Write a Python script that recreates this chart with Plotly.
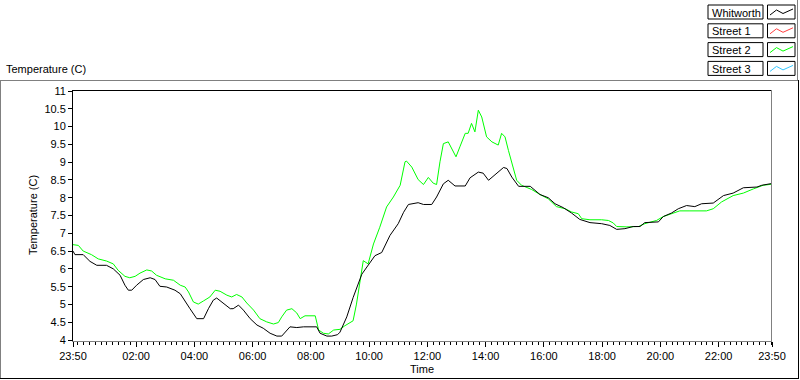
import plotly.graph_objects as go
from datetime import datetime, timedelta

# ---------------- data (minutes after 23:50, temperature in C) ----------------
whitworth_min = [0, 4, 21, 35, 49, 69, 83, 97, 107, 114, 121, 131, 145, 159, 169, 179, 193, 203,
                 210, 221, 231, 241, 255, 269, 279, 289, 296, 310, 324, 330, 341, 351, 365, 379,
                 392, 406, 420, 430, 440, 447, 461, 475, 502, 509, 523, 533, 545, 550, 564, 577,
                 595, 608, 622, 636, 653, 670, 681, 691, 711, 722, 739, 749, 763, 773, 787, 808,
                 818, 835, 845, 856, 869, 887, 894, 904, 918, 942, 962, 979, 993, 1010, 1027,
                 1044, 1065, 1089, 1106, 1120, 1137, 1154, 1168, 1178, 1206, 1216, 1233, 1247,
                 1264, 1281, 1295, 1319, 1340, 1360, 1381, 1409, 1419, 1440]
whitworth_val = [6.50, 6.40, 6.40, 6.21, 6.10, 6.10, 6.00, 5.82, 5.54, 5.40, 5.40, 5.54, 5.70,
                 5.75, 5.70, 5.51, 5.49, 5.43, 5.40, 5.30, 5.07, 4.88, 4.60, 4.60, 4.88, 5.12,
                 5.18, 5.04, 4.88, 4.88, 4.98, 4.84, 4.60, 4.42, 4.33, 4.19, 4.11, 4.11, 4.28,
                 4.37, 4.35, 4.37, 4.37, 4.19, 4.11, 4.11, 4.15, 4.22, 4.65, 5.19, 5.85, 6.09,
                 6.37, 6.46, 6.94, 7.27, 7.59, 7.81, 7.86, 7.81, 7.81, 8.02, 8.39, 8.49, 8.33,
                 8.33, 8.56, 8.72, 8.69, 8.49, 8.63, 8.85, 8.82, 8.58, 8.32, 8.32, 8.09, 8.00,
                 7.83, 7.72, 7.57, 7.39, 7.30, 7.27, 7.22, 7.11, 7.13, 7.19, 7.19, 7.30, 7.32,
                 7.47, 7.57, 7.69, 7.78, 7.75, 7.83, 7.85, 8.06, 8.13, 8.28, 8.30, 8.35, 8.40]

street2_min = [0, 11, 21, 38, 52, 69, 83, 93, 107, 117, 128, 138, 152, 162, 172, 190, 207, 221,
               231, 238, 248, 258, 269, 282, 293, 303, 317, 327, 337, 348, 358, 372, 385, 399,
               413, 423, 430, 440, 451, 461, 468, 478, 499, 506, 516, 526, 537, 550, 560, 577,
               584, 595, 598, 608, 619, 632, 646, 660, 674, 684, 687, 698, 711, 722, 732, 742,
               749, 756, 763, 773, 780, 789, 797, 808, 814, 821, 828, 835, 842, 852, 863, 876,
               883, 890, 897, 904, 914, 924, 945, 962, 979, 996, 1014, 1027, 1041, 1048, 1065,
               1089, 1103, 1113, 1120, 1141, 1165, 1178, 1202, 1216, 1240, 1250, 1271, 1305,
               1319, 1336, 1360, 1381, 1402, 1422, 1440]
street2_val = [6.68, 6.66, 6.50, 6.40, 6.28, 6.22, 6.14, 5.96, 5.79, 5.75, 5.79, 5.88, 5.97,
               5.94, 5.82, 5.72, 5.68, 5.54, 5.49, 5.35, 5.07, 5.01, 5.10, 5.21, 5.40, 5.37,
               5.26, 5.21, 5.28, 5.21, 5.04, 4.84, 4.60, 4.51, 4.45, 4.49, 4.65, 4.84, 4.88,
               4.76, 4.60, 4.68, 4.68, 4.28, 4.19, 4.17, 4.28, 4.30, 4.40, 4.54, 5.01, 5.95,
               6.23, 6.14, 6.70, 7.17, 7.74, 8.02, 8.35, 9.01, 9.03, 8.86, 8.51, 8.37, 8.57,
               8.41, 8.37, 9.01, 9.52, 9.57, 9.38, 9.15, 9.43, 9.81, 9.81, 10.09, 9.85, 10.46,
               10.27, 9.71, 9.57, 9.48, 9.81, 9.71, 9.33, 9.01, 8.49, 8.35, 8.23, 8.09, 7.97,
               7.75, 7.69, 7.60, 7.55, 7.41, 7.38, 7.38, 7.36, 7.29, 7.19, 7.18, 7.19, 7.27,
               7.36, 7.47, 7.57, 7.63, 7.63, 7.63, 7.69, 7.88, 8.06, 8.13, 8.25, 8.35, 8.38]

street1_min, street1_val = [], []
street3_min, street3_val = [], []

series_names = ["Whitworth", "Street 1", "Street 2", "Street 3"]
series_colors = ["#000000", "#ff4040", "#00ff00", "#33c8ff"]

tick_labels = ["23:50", "02:00", "04:00", "06:00", "08:00", "10:00", "12:00",
               "14:00", "16:00", "18:00", "20:00", "22:00", "23:50"]

y_title = "Temperature (C)"
x_title = "Time"

# ---------------- build ----------------
start = datetime(2000, 1, 1, 23, 50)
end = start + timedelta(days=1)


def to_time(mins):
    return [start + timedelta(minutes=m) for m in mins]


tickvals = [start] + [datetime(2000, 1, 2, int(lbl[:2])) for lbl in tick_labels[1:-1]] + [end]

FONT = "Liberation Sans, Arial, sans-serif"

fig = go.Figure()
data = [(whitworth_min, whitworth_val), (street1_min, street1_val),
        (street2_min, street2_val), (street3_min, street3_val)]
# draw order: coloured behind black
for idx in [1, 3, 2, 0]:
    mins, vals = data[idx]
    fig.add_trace(go.Scatter(x=to_time(mins), y=vals, mode="lines",
                             name=series_names[idx],
                             line=dict(color=series_colors[idx], width=1),
                             showlegend=False))

W, H = 800, 380
L, R, T, B = 73, 28, 90, 39
PW, PH = W - L - R, H - T - B


def px(x):
    return (x - L) / PW


def py(y):
    return (H - B - y) / PH


shapes = []


def line(x0, y0, x1, y1, color):
    shapes.append(dict(type="line", xref="paper", yref="paper",
                       x0=px(x0), y0=py(y0), x1=px(x1), y1=py(y1),
                       line=dict(color=color, width=1), layer="above"))


# outer panel frame
line(0, 80.5, 798, 80.5, "#808080")
line(0.5, 80, 0.5, 378, "#808080")
line(0, 378.5, 799, 378.5, "#000000")
line(798.5, 80, 798.5, 379, "#000000")
line(797.5, 0, 797.5, 80, "#808080")

# plot area frame (top black, right gray)
line(L, T + 0.5, L + PW, T + 0.5, "#000000")
line(L + PW - 0.5, T, L + PW - 0.5, H - B, "#808080")

annotations = []
# legend boxes
row_top = [5, 23.8, 42.6, 61.4]
for i, name in enumerate(series_names):
    y0 = row_top[i]
    y1 = y0 + 14
    shapes.append(dict(type="rect", xref="paper", yref="paper",
                       x0=px(708), x1=px(763), y0=py(y0), y1=py(y1),
                       line=dict(color="#000000", width=1), fillcolor="white"))
    shapes.append(dict(type="rect", xref="paper", yref="paper",
                       x0=px(767.5), x1=px(795), y0=py(y0), y1=py(y1),
                       line=dict(color="#000000", width=1), fillcolor="white"))
    pts = [(770, y0 + 10), (776.5, y0 + 5), (783, y0 + 8.5), (793, y0 + 4)]
    path = "M " + " L ".join(f"{px(a):.5f},{py(b):.5f}" for a, b in pts)
    shapes.append(dict(type="path", xref="paper", yref="paper", path=path,
                       line=dict(color=series_colors[i], width=1)))
    annotations.append(dict(text=name, xref="paper", yref="paper",
                            x=px(709.5), y=py(y0 + 7.5), xanchor="left", yanchor="middle",
                            showarrow=False, font=dict(family=FONT, size=11, color="black")))

annotations.append(dict(text=y_title, xref="paper", yref="paper", x=px(4), y=py(69),
                        xanchor="left", yanchor="middle", showarrow=False,
                        font=dict(family=FONT, size=11, color="black")))
annotations.append(dict(text=y_title, xref="paper", yref="paper", x=px(33), y=py(215),
                        xanchor="center", yanchor="middle", textangle=-90, showarrow=False,
                        font=dict(family=FONT, size=11, color="black")))
annotations.append(dict(text=x_title, xref="paper", yref="paper", x=px(422), y=py(369),
                        xanchor="center", yanchor="middle", showarrow=False,
                        font=dict(family=FONT, size=11, color="black")))

fig.update_layout(
    width=W, height=H,
    margin=dict(l=L, r=R, t=T, b=B, pad=0),
    paper_bgcolor="white", plot_bgcolor="white",
    font=dict(family=FONT, size=11, color="black"),
    showlegend=False,
    shapes=shapes, annotations=annotations,
    xaxis=dict(type="date", range=[start, end], tickmode="array", tickvals=tickvals,
               ticktext=tick_labels, ticks="outside", ticklen=5, tickcolor="black",
               showgrid=False, zeroline=False, showline=True, linecolor="#808080",
               linewidth=1, tickfont=dict(family=FONT, size=11, color="black"),
               minor=dict(ticks="outside", ticklen=3, tickcolor="black",
                          dtick=12 * 60 * 1000, tick0="2000-01-02 00:00", showgrid=False)),
    yaxis=dict(range=[3.972, 11.028], tickmode="linear", tick0=4, dtick=0.5,
               ticks="outside", ticklen=4, tickcolor="black", showgrid=False,
               zeroline=False, showline=True, linecolor="black", linewidth=1,
               tickfont=dict(family=FONT, size=11, color="black")),
)

fig.write_html("out.html", config={"displayModeBar": False},
               post_script="document.body.style.margin='0';document.body.style.overflow='hidden';")
